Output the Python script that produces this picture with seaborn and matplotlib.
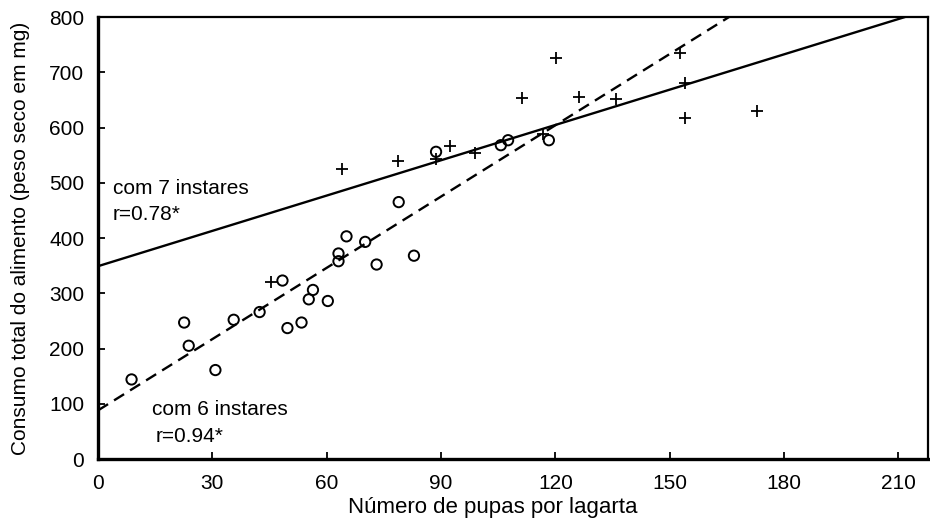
import matplotlib
matplotlib.use("Agg")
import matplotlib.pyplot as plt
import seaborn as sns
import pandas as pd
import numpy as np

# ---- data ----
x6 = [8.8, 22.6, 23.8, 30.8, 35.6, 42.4, 48.4, 49.7, 53.4, 55.3, 56.4, 60.3,
      63.1, 63.1, 65.2, 70.1, 73.1, 78.9, 82.9, 88.7, 105.7, 107.6, 118.3]
y6 = [144, 247, 205, 161, 252, 266, 323, 237, 247, 289, 306, 286,
      372, 358, 403, 393, 352, 465, 368, 556, 568, 577, 577]

x7 = [45.4, 63.9, 78.8, 88.7, 92.4, 98.9, 111.2, 116.8, 120.1, 126.1,
      135.8, 152.8, 153.9, 154.1, 172.9]
y7 = [321, 525, 540, 543, 566, 553, 653, 589, 726, 655,
      651, 734, 680, 617, 629]

# regression lines (intercept, slope)
line7 = (349, 2.13)
line6 = (88, 4.30)

x_ticks = [0, 30, 60, 90, 120, 150, 180, 210]
y_ticks = [0, 100, 200, 300, 400, 500, 600, 700, 800]

xlabel = "Número de pupas por lagarta"
ylabel = "Consumo total do alimento (peso seco em mg)"

sns.set_theme(style="white")
plt.rcParams["font.family"] = ["Liberation Sans", "DejaVu Sans"]

fig = plt.figure(figsize=(9.3, 5.25), dpi=100)
ax = fig.add_axes([0.1054, 0.1257, 0.8925, 0.8419])

XMAX, YMAX = 217.8, 800

df6 = pd.DataFrame({"x": x6, "y": y6})
df7 = pd.DataFrame({"x": x7, "y": y7})

sns.scatterplot(data=df6, x="x", y="y", ax=ax, marker="o", s=55,
                facecolors="none", edgecolors="black", linewidth=1.4, zorder=3)
sns.scatterplot(data=df7, x="x", y="y", ax=ax, marker="+", s=70,
                color="black", linewidth=1.3, zorder=3)

xs = np.array([0, XMAX])
l7 = pd.DataFrame({"x": xs, "y": line7[0] + line7[1] * xs})
l6 = pd.DataFrame({"x": xs, "y": line6[0] + line6[1] * xs})
sns.lineplot(data=l7, x="x", y="y", ax=ax, color="black", linewidth=1.7)
sns.lineplot(data=l6, x="x", y="y", ax=ax, color="black", linewidth=1.7)
ax.lines[-1].set_dashes((5, 3))

ax.set_xlim(0, XMAX)
ax.set_ylim(0, YMAX)
ax.set_xticks(x_ticks)
ax.set_yticks(y_ticks)
ax.tick_params(direction="in", length=5, width=1.3, labelsize=15,
               colors="black", left=True, bottom=True)
ax.tick_params(axis="x", pad=11)
ax.tick_params(axis="y", pad=10)
for s in ["left", "bottom"]:
    ax.spines[s].set_linewidth(2.4)
for s in ["top", "right"]:
    ax.spines[s].set_linewidth(1.6)
for s in ax.spines.values():
    s.set_color("black")

ax.set_xlabel(xlabel, fontsize=16, color="black")
ax.set_ylabel(ylabel, fontsize=15, color="black")
ax.xaxis.set_label_coords((493 - 98) / 830, -(507 - 459) / 442, transform=ax.transAxes)
ax.yaxis.set_label_coords(-(98 - 20) / 830, 0.5, transform=ax.transAxes)
ax.xaxis.label.set_va("center")
ax.yaxis.label.set_va("center")

tk = dict(fontsize=15, color="black", va="center", ha="left")
ax.text(3.9, 490, "com 7 instares", **tk)
ax.text(3.9, 442, "r=0.78*", **tk)
ax.text(14.2, 89, "com 6 instares", **tk)
ax.text(15.0, 40, "r=0.94*", **tk)

fig.savefig("out.png", dpi=100)
